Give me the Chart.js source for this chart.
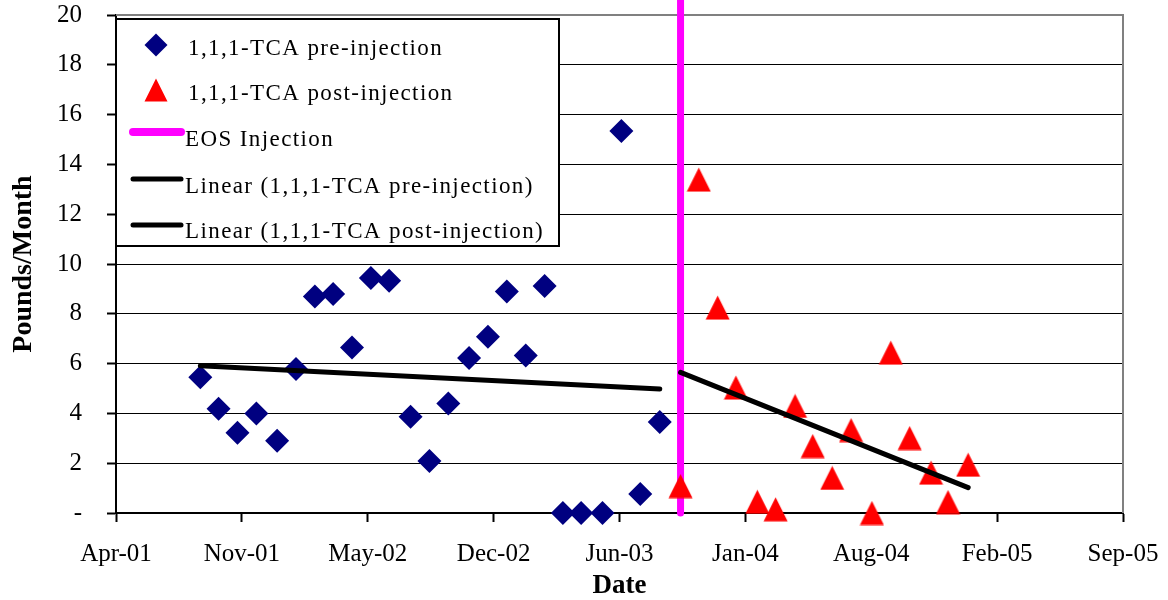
<!DOCTYPE html>
<html>
<head>
<meta charset="utf-8">
<title>1,1,1-TCA Pounds/Month</title>
<script src="https://cdn.jsdelivr.net/npm/chart.js@4.4.1/dist/chart.umd.min.js"></script>
<style>
  html, body { margin: 0; padding: 0; background: #fff; }
  #wrap { width: 1168px; height: 600px; }
</style>
</head>
<body>
<div id="wrap"><canvas id="chart" width="1168" height="600"></canvas></div>
<script>
// dates are Excel serial day numbers (day 1 = 1900-01-01)
const preDates = [37134, 37163, 37193, 37223, 37256, 37286, 37316, 37345, 37375, 37405, 37434, 37468, 37498,
  37528, 37561, 37591, 37621, 37651, 37681, 37710, 37739, 37773, 37803, 37833, 37864];
const preValues = [5.45, 4.19, 3.22, 4.00, 2.90, 5.78, 8.69, 8.80, 6.65, 9.44, 9.33, 3.87, 2.09,
  4.40, 6.22, 7.08, 8.90, 6.33, 9.12, 0, 0, 0, 15.34, 0.76, 3.65];

const postDates = [37897, 37926, 37956, 37985, 38019, 38048, 38079, 38107, 38138, 38168, 38201, 38231,
  38261, 38295, 38322, 38354];
const postValues = [1.08, 13.39, 8.25, 5.04, 0.45, 0.15, 4.30, 2.69, 1.41, 3.33, 0, 6.44,
  3.01, 1.62, 0.44, 1.94];

const injectionDate = 37897;
const injectionSpan = [0, 20.7];

const xTickDates = [37000, 37200, 37400, 37600, 37800, 38000, 38200, 38400, 38600];
const yTickValues = [0, 2, 4, 6, 8, 10, 12, 14, 16, 18, 20];

const seriesNames = ['1,1,1-TCA pre-injection', '1,1,1-TCA post-injection', 'EOS Injection',
  'Linear (1,1,1-TCA pre-injection)', 'Linear (1,1,1-TCA post-injection)'];

const MONTHS = ['Jan', 'Feb', 'Mar', 'Apr', 'May', 'Jun', 'Jul', 'Aug', 'Sep', 'Oct', 'Nov', 'Dec'];
const FONT = "'Liberation Serif', 'Times New Roman', serif";
const NAVY = '#000080', RED = '#FF0000', MAGENTA = '#FF00FF';

function excelLabel(serial) {
  const d = new Date(Date.UTC(1899, 11, 30) + serial * 86400000);
  return MONTHS[d.getUTCMonth()] + '-' + String(d.getUTCFullYear() % 100).padStart(2, '0');
}

// least squares line, drawn from first to last date like an Excel trendline
function linearFit(xs, ys) {
  const n = xs.length;
  const mx = xs.reduce((a, b) => a + b, 0) / n;
  const my = ys.reduce((a, b) => a + b, 0) / n;
  let sxy = 0, sxx = 0;
  for (let i = 0; i < n; i++) {
    sxy += (xs[i] - mx) * (ys[i] - my);
    sxx += (xs[i] - mx) * (xs[i] - mx);
  }
  const slope = sxy / sxx;
  const b = my - slope * mx;
  return [{ x: xs[0], y: b + slope * xs[0] }, { x: xs[n - 1], y: b + slope * xs[n - 1] }];
}

function pathTriangle(ctx, cx, cy, s) {
  const h = s / 2;
  ctx.beginPath();
  ctx.moveTo(cx, cy - h);
  ctx.lineTo(cx + h, cy + h);
  ctx.lineTo(cx - h, cy + h);
  ctx.closePath();
}

function pathDiamond(ctx, cx, cy, r) {
  ctx.beginPath();
  ctx.moveTo(cx, cy - r);
  ctx.lineTo(cx + r, cy);
  ctx.lineTo(cx, cy + r);
  ctx.lineTo(cx - r, cy);
  ctx.closePath();
}

// Excel style triangle marker, centred on its box
function makeTriangle(size, color) {
  const c = document.createElement('canvas');
  c.width = size; c.height = size;
  const ctx = c.getContext('2d');
  pathTriangle(ctx, size / 2, size / 2, size - 1);
  ctx.fillStyle = color;
  ctx.fill();
  return c;
}

const toPoints = (xs, ys) => xs.map((x, i) => ({ x, y: ys[i] }));

// tick label overhang should not shrink the plot area
function noOverhang(s) {
  s.paddingTop = 0; s.paddingBottom = 0; s.paddingLeft = 0; s.paddingRight = 0;
}

const plotFrame = {
  id: 'plotFrame',
  beforeDatasetsDraw(chart) {
    const { ctx, chartArea: a } = chart;
    ctx.save();
    ctx.strokeStyle = '#808080';
    ctx.lineWidth = 2;
    ctx.beginPath();
    ctx.moveTo(a.left, a.top);
    ctx.lineTo(a.right, a.top);
    ctx.lineTo(a.right, a.bottom);
    ctx.stroke();
    ctx.restore();
  }
};

const boxLegend = {
  id: 'boxLegend',
  afterDatasetsDraw(chart) {
    const ctx = chart.ctx;
    const box = { left: 116, top: 19, right: 559, bottom: 246 };
    const rows = [
      { mark: 'diamond', y: 45, ty: 55, tx: 188 },
      { mark: 'triangle', y: 90, ty: 100, tx: 188 },
      { mark: 'line', color: MAGENTA, w: 8, y: 132, ty: 146, tx: 185 },
      { mark: 'line', color: '#000', w: 5, y: 179, ty: 193, tx: 185 },
      { mark: 'line', color: '#000', w: 5, y: 225, ty: 238, tx: 185 }
    ];
    ctx.save();
    ctx.fillStyle = '#fff';
    ctx.fillRect(box.left, box.top, box.right - box.left, box.bottom - box.top);
    ctx.strokeStyle = '#000';
    ctx.lineWidth = 2;
    ctx.strokeRect(box.left, box.top, box.right - box.left, box.bottom - box.top);

    rows.forEach((r, i) => {
      if (r.mark === 'diamond') {
        pathDiamond(ctx, 156, r.y, 11.5);
        ctx.fillStyle = NAVY;
        ctx.fill();
      } else if (r.mark === 'triangle') {
        pathTriangle(ctx, 156, r.y, 23);
        ctx.fillStyle = RED;
        ctx.fill();
      } else {
        ctx.strokeStyle = r.color;
        ctx.lineWidth = r.w;
        ctx.lineCap = 'round';
        ctx.beginPath();
        ctx.moveTo(133, r.y);
        ctx.lineTo(181, r.y);
        ctx.stroke();
      }
      ctx.fillStyle = '#000';
      ctx.font = '23px ' + FONT;
      ctx.letterSpacing = '1.4px';
      ctx.textAlign = 'left';
      ctx.textBaseline = 'alphabetic';
      ctx.fillText(seriesNames[i], r.tx, r.ty);
    });
    ctx.restore();
  }
};

const triangleMark = makeTriangle(25, RED);

new Chart(document.getElementById('chart'), {
  type: 'scatter',
  data: {
    datasets: [
      {
        label: seriesNames[0],
        data: toPoints(preDates, preValues),
        pointStyle: 'rectRot',
        pointRadius: 12,
        pointHoverRadius: 12,
        backgroundColor: NAVY,
        borderColor: NAVY,
        borderWidth: 0,
        clip: false,
        order: 2
      },
      {
        label: seriesNames[1],
        data: toPoints(postDates, postValues),
        pointStyle: triangleMark,
        pointRadius: 12,
        backgroundColor: RED,
        borderColor: RED,
        clip: false,
        order: 1
      },
      {
        label: seriesNames[2],
        data: injectionSpan.map(y => ({ x: injectionDate, y })),
        showLine: true,
        borderColor: MAGENTA,
        borderWidth: 7,
        borderCapStyle: 'round',
        pointRadius: 0,
        pointHoverRadius: 0,
        clip: false,
        order: 3
      },
      {
        label: seriesNames[3],
        data: linearFit(preDates, preValues),
        showLine: true,
        borderColor: '#000',
        borderWidth: 5,
        borderCapStyle: 'round',
        pointRadius: 0,
        pointHoverRadius: 0,
        order: 0
      },
      {
        label: seriesNames[4],
        data: linearFit(postDates, postValues),
        showLine: true,
        borderColor: '#000',
        borderWidth: 5,
        borderCapStyle: 'round',
        pointRadius: 0,
        pointHoverRadius: 0,
        order: 0
      }
    ]
  },
  options: {
    responsive: false,
    animation: false,
    events: [],
    layout: { padding: { left: 0, right: 45, top: 15, bottom: 0 } },
    plugins: { legend: { display: false }, tooltip: { enabled: false } },
    scales: {
      x: {
        type: 'linear',
        min: 37000,
        max: 38600,
        afterBuildTicks: s => { s.ticks = xTickDates.map(v => ({ value: v })); },
        afterFit: s => { s.height = 87; noOverhang(s); },
        ticks: {
          callback: v => excelLabel(v),
          font: { family: FONT, size: 25, lineHeight: 1 },
          color: '#000',
          padding: 20,
          maxRotation: 0,
          autoSkip: false
        },
        grid: { drawOnChartArea: false, drawTicks: true, tickLength: 9, tickColor: '#000', tickWidth: 2 },
        border: { display: true, color: '#000', width: 2 },
        title: {
          display: true,
          text: 'Date',
          color: '#000',
          font: { family: FONT, size: 27, weight: 'bold', lineHeight: 1 },
          padding: { top: 0, bottom: 0 }
        }
      },
      y: {
        min: 0,
        max: 20,
        afterBuildTicks: s => { s.ticks = yTickValues.map(v => ({ value: v })); },
        afterFit: s => { s.width = 116; noOverhang(s); },
        ticks: {
          callback: v => (v === 0 ? '-' : v),
          font: { family: FONT, size: 25, lineHeight: 1 },
          color: '#000',
          padding: 25
        },
        grid: { color: '#000', lineWidth: 1, tickLength: 9, tickColor: '#000', tickWidth: 2 },
        border: { display: true, color: '#000', width: 2 },
        title: {
          display: true,
          text: 'Pounds/Month',
          color: '#000',
          font: { family: FONT, size: 28, weight: 'bold', lineHeight: 1 },
          padding: { top: 10, bottom: 0 }
        }
      }
    }
  },
  plugins: [plotFrame, boxLegend]
});
</script>
</body>
</html>
